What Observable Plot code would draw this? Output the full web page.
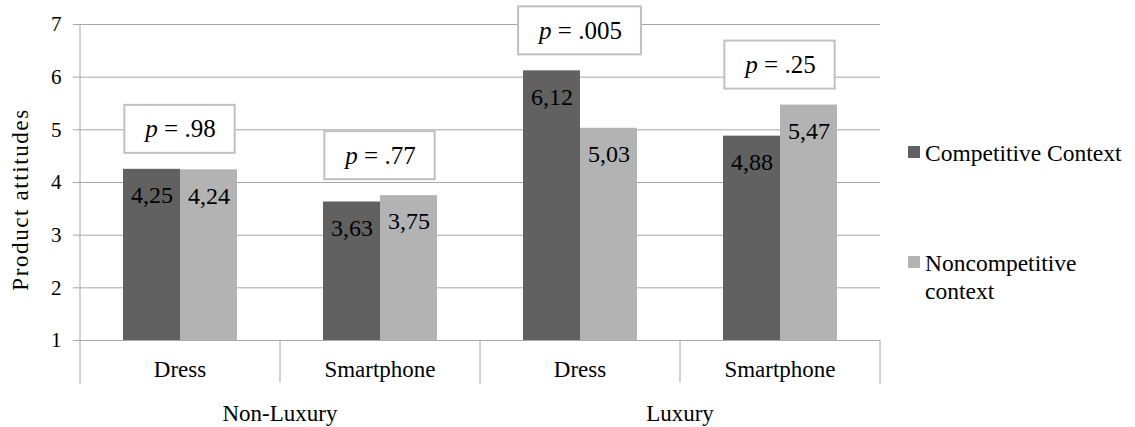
<!DOCTYPE html>
<html><head><meta charset="utf-8">
<script src="https://cdn.jsdelivr.net/npm/d3@7"></script>
<script src="https://cdn.jsdelivr.net/npm/@observablehq/plot@0.6"></script>
<style>
body{margin:0;background:#fff;}
#wrap{position:relative;width:1135px;height:427px;font-family:'Liberation Serif','Times New Roman',serif;overflow:hidden;}
#chart{position:absolute;left:0;top:0;}
.lg-sw{position:absolute;width:12px;height:12px;}
.lg-tx{position:absolute;width:205px;font-size:23.5px;line-height:28px;color:#000;}
</style></head><body><div id="wrap"><div id="chart"></div></div>
<script>
const categories = ["Dress", "Smartphone", "Dress", "Smartphone"];
const groups = ["Non-Luxury", "Non-Luxury", "Luxury", "Luxury"];
const seriesNames = ["Competitive Context", "Noncompetitive context"];
const competitive = [4.25, 3.63, 6.12, 4.88];
const noncompetitive = [4.24, 3.75, 5.03, 5.47];
const pValues = [".98", ".77", ".005", ".25"];
const yTicks = [1, 2, 3, 4, 5, 6, 7];
const colors = ["#616161", "#b3b3b3"];
const gridColor = "#a6a6a6";
const serif = "'Liberation Serif', 'Times New Roman', serif";

const keys = categories.map((c, i) => groups[i] + " | " + c);
const bars = [];
keys.forEach((k, i) => {
  bars.push({key: k, series: seriesNames[0], value: competitive[i]});
  bars.push({key: k, series: seriesNames[1], value: noncompetitive[i]});
});
const pRows = keys.map((k, i) => ({key: k, p: pValues[i], top: Math.max(competitive[i], noncompetitive[i])}));

const plot = Plot.plot({
  width: 895, height: 427,
  marginLeft: 80, marginRight: 15, marginTop: 24, marginBottom: 87,
  style: {fontFamily: serif, fontSize: "21px", color: "#000", background: "transparent", overflow: "visible"},
  fx: {domain: keys, padding: 0, axis: null},
  x: {domain: seriesNames, paddingInner: 0, paddingOuter: 0.754, axis: null},
  y: {domain: [1, 7], axis: null},
  color: {domain: seriesNames, range: colors},
  marks: [
    Plot.gridY(yTicks, {stroke: gridColor, strokeOpacity: 1}),
    Plot.barY(bars, {fx: "key", x: "series", y1: 1, y2: "value", fill: "series"}),
    Plot.text(bars, {fx: "key", x: "series", y: "value", text: d => d.value.toFixed(2).replace(".", ","), dy: 26, fontSize: 24, lineAnchor: "middle", fill: "#000"}),
    Plot.ruleY([1], {stroke: gridColor}),
    Plot.axisY(yTicks, {tickSize: 7, tickPadding: 12, tickFormat: d => String(d), stroke: gridColor, fill: "#000", fontSize: 21, label: "Product attitudes", labelAnchor: "center", labelArrow: "none", labelOffset: 69}),
    Plot.text(pRows, {fx: "key", y: "top", text: d => "p = " + d.p, dy: -40, fontSize: 25, lineAnchor: "middle", fill: "#000", className: "pval"})
  ]
});
document.getElementById("chart").appendChild(plot);
d3.select(plot).attr("font-family", serif);

// y-axis label: font, spacing, and centre as in the reference
d3.select(plot).selectAll("text").filter(function(){ return this.textContent === "Product attitudes"; })
  .attr("font-size", 23).attr("letter-spacing", "1.6px")
  .each(function(){
    const tr = this.getAttribute("transform");
    if (tr) {
      const m = tr.match(/translate\(\s*([-\d.e]+)[ ,]+([-\d.e]+)\s*\)/);
      if (m) this.setAttribute("transform", tr.replace(m[0], `translate(${+m[1]},${+m[2] + 17})`));
    }
  });

// p-value boxes with italic p
d3.select(plot).selectAll("g.pval text").each(function(){
  const t = d3.select(this);
  const s = this.textContent;
  const rest = s.slice(1);
  t.text(null);
  t.append("tspan").attr("font-style", "italic").text("p");
  t.append("tspan").text(rest);
  const bb = this.getBBox();
  const w = bb.width + 38, h = 48, cx = bb.x + bb.width / 2, cy = bb.y + bb.height / 2;
  const r = document.createElementNS("http://www.w3.org/2000/svg", "rect");
  this.parentNode.insertBefore(r, this);
  d3.select(r).attr("transform", t.attr("transform")).attr("x", cx - w / 2).attr("y", cy - h / 2)
    .attr("width", w).attr("height", h).attr("fill", "#fff").attr("stroke", "#c0c0c0").attr("stroke-width", 2);
});

// category axis decorations from the library's scales
const fx = plot.scale("fx"), y = plot.scale("y");
const svg = d3.select(plot);
const g = svg.append("g").attr("font-family", serif);
const base = y.apply(1), topY = y.apply(7);
const starts = keys.map(k => fx.apply(k));
const bw = fx.bandwidth;
const bounds = starts.concat([starts[starts.length - 1] + bw]);
g.append("line").attr("x1", bounds[0]).attr("x2", bounds[0]).attr("y1", topY).attr("y2", base).attr("stroke", gridColor);
bounds.forEach((b, i) => {
  const long = (i === 0 || i === 2 || i === 4);
  g.append("line").attr("x1", b).attr("x2", b).attr("y1", base).attr("y2", base + (long ? 44 : 42)).attr("stroke", gridColor);
});
starts.forEach((s, i) => {
  g.append("text").attr("x", s + bw / 2).attr("y", base + 37).attr("text-anchor", "middle").attr("font-size", 23).text(categories[i]);
});
const groupNames = Array.from(new Set(groups));
groupNames.forEach(gn => {
  const idx = groups.map((v, i) => v === gn ? i : -1).filter(i => i >= 0);
  const x0 = starts[idx[0]], x1 = starts[idx[idx.length - 1]] + bw;
  g.append("text").attr("x", (x0 + x1) / 2).attr("y", base + 81).attr("text-anchor", "middle").attr("font-size", 23).text(gn);
});

// legend
const wrap = document.getElementById("wrap");
const swTops = [146, 256];
seriesNames.forEach((n, i) => {
  const sw = document.createElement("div");
  sw.className = "lg-sw"; sw.style.left = "908px"; sw.style.top = swTops[i] + "px"; sw.style.background = colors[i];
  wrap.appendChild(sw);
  const tx = document.createElement("div");
  tx.className = "lg-tx"; tx.style.left = "925px"; tx.style.top = (swTops[i] - 7) + "px"; tx.textContent = n;
  wrap.appendChild(tx);
});
</script></body></html>
